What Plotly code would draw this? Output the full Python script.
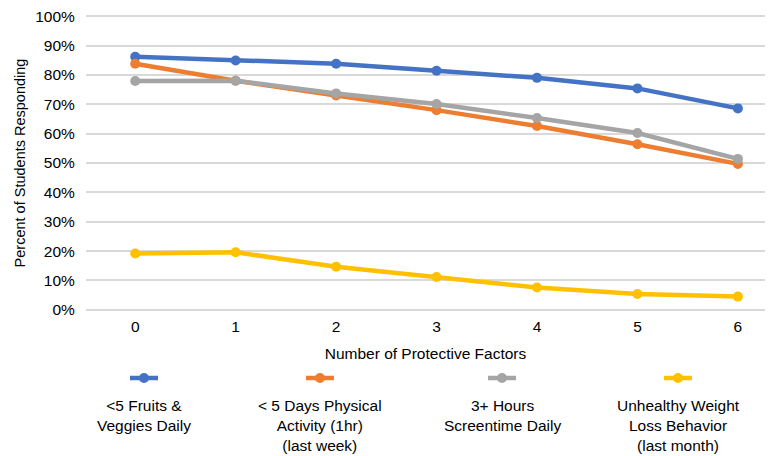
import plotly.graph_objects as go

factors = [0, 1, 2, 3, 4, 5, 6]
series_names = [
    "<5 Fruits &<br>Veggies Daily",
    "< 5 Days Physical<br>Activity (1hr)<br>(last week)",
    "3+ Hours<br>Screentime Daily",
    "Unhealthy Weight<br>Loss Behavior<br>(last month)",
]
fruits_veggies = [86.2, 84.9, 83.8, 81.4, 79.0, 75.4, 68.6]
physical_activity = [83.8, 78.0, 73.0, 68.0, 62.6, 56.4, 49.7]
screentime = [77.9, 78.0, 73.7, 70.1, 65.3, 60.2, 51.4]
weight_loss = [19.2, 19.6, 14.7, 11.2, 7.6, 5.4, 4.5]
y_ticks = [0, 10, 20, 30, 40, 50, 60, 70, 80, 90, 100]
y_tick_labels = [f"{v}%" for v in y_ticks]

colors = ["#4472C4", "#ED7D31", "#A5A5A5", "#FFC000"]
all_series = [fruits_veggies, physical_activity, screentime, weight_loss]

FONT = "Liberation Sans, Arial, sans-serif"
fig = go.Figure()
for name, vals, col in zip(series_names, all_series, colors):
    fig.add_trace(go.Scatter(
        x=factors, y=vals, mode="lines+markers", name=name,
        line=dict(color=col, width=4.5),
        marker=dict(color=col, size=10),
        showlegend=False,
    ))

W, H = 772, 456
ml, mr, mt, mb = 86, 7, 15, 145
pw = W - ml - mr
ph = H - mt - mb

fig.update_layout(
    width=W, height=H,
    margin=dict(l=ml, r=mr, t=mt, b=mb, pad=0),
    paper_bgcolor="white", plot_bgcolor="white",
    font=dict(family=FONT, size=15.5, color="#000000"),
    xaxis=dict(
        range=[-0.49, 6.27], tickvals=factors, ticktext=[str(f) for f in factors],
        showgrid=False, zeroline=False, showline=False,
        ticks="outside", ticklen=1, tickcolor="rgba(0,0,0,0)",
        title=dict(text="Number of Protective Factors", standoff=14,
                   font=dict(size=15.5)),
        tickfont=dict(size=15.5),
    ),
    yaxis=dict(
        range=[-0.4, 100.4], tickvals=y_ticks, ticktext=y_tick_labels,
        showgrid=True, gridcolor="#D9D9D9", gridwidth=1.5,
        zeroline=False, showline=False,
        ticks="outside", ticklen=7, tickcolor="rgba(0,0,0,0)",
        title=dict(text="Percent of Students Responding", standoff=6,
                   font=dict(size=14.5)),
        tickfont=dict(size=15.5),
    ),
)

# custom legend: swatch above label (page pixel positions)
legend_px = [144, 320, 502, 678]
sym_y = (mt + ph - 378) / ph
text_y = (mt + ph - 395) / ph
for name, col, xp in zip(series_names, colors, legend_px):
    xa = (xp - ml) / pw
    fig.add_shape(type="line", xref="paper", yref="paper",
                  xsizemode="pixel", xanchor=xa, x0=-14, x1=14,
                  y0=sym_y, y1=sym_y,
                  line=dict(color=col, width=4.5))
    fig.add_shape(type="circle", xref="paper", yref="paper",
                  xsizemode="pixel", ysizemode="pixel",
                  xanchor=xa, yanchor=sym_y, x0=-5, x1=5, y0=-5, y1=5,
                  fillcolor=col, line=dict(color=col, width=0))
    fig.add_annotation(x=xa, y=text_y, xref="paper", yref="paper",
                       text=name, showarrow=False, align="center",
                       xanchor="center", yanchor="top",
                       font=dict(size=15.5, family=FONT, color="#000000"))

fig.write_html("out.html",
               config={"displayModeBar": False},
               post_script="document.body.style.margin='0';document.body.style.overflow='hidden';")
